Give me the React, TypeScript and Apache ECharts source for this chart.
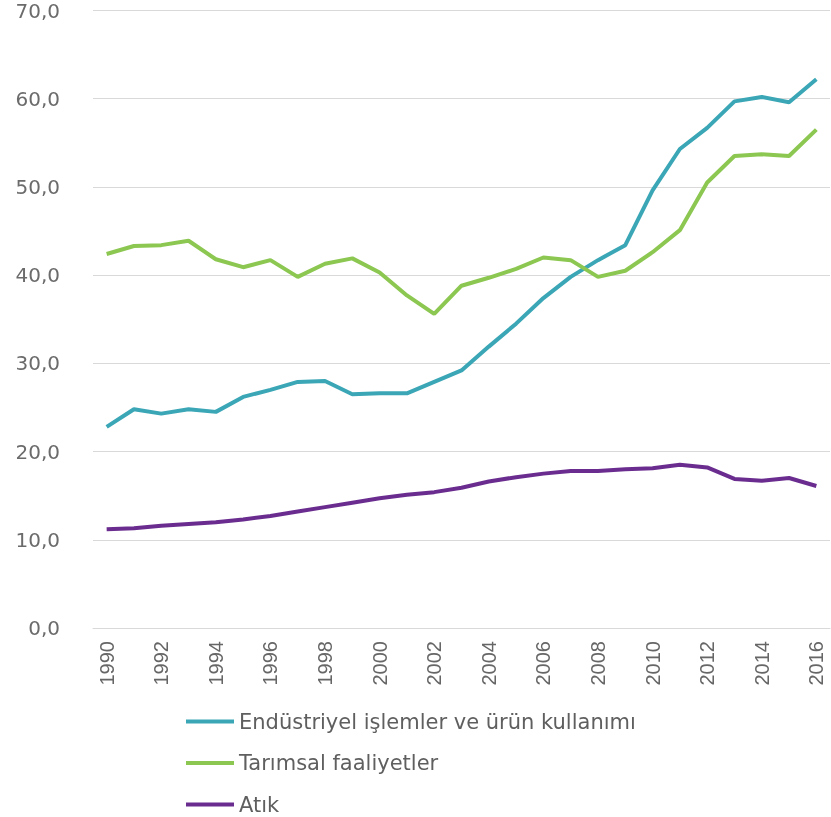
import React, { useEffect, useRef } from "react";
import * as echarts from "echarts";

const years = ["1990","1991","1992","1993","1994","1995","1996","1997","1998","1999","2000","2001","2002","2003","2004","2005","2006","2007","2008","2009","2010","2011","2012","2013","2014","2015","2016"];
const industrial = [22.8,24.8,24.3,24.8,24.5,26.2,27.0,27.9,28.0,26.5,26.6,26.6,27.9,29.2,31.9,34.5,37.4,39.8,41.7,43.4,49.6,54.3,56.7,59.7,60.2,59.6,62.2];
const agriculture = [42.4,43.3,43.4,43.9,41.8,40.9,41.7,39.8,41.3,41.9,40.3,37.7,35.6,38.8,39.7,40.7,42.0,41.7,39.8,40.5,42.6,45.1,50.5,53.5,53.7,53.5,56.5];
const waste = [11.2,11.3,11.6,11.8,12.0,12.3,12.7,13.2,13.7,14.2,14.7,15.1,15.4,15.9,16.6,17.1,17.5,17.8,17.8,18.0,18.1,18.5,18.2,16.9,16.7,17.0,16.1];
const seriesNames = ["Endüstriyel işlemler ve ürün kullanımı", "Tarımsal faaliyetler", "Atık"];
const colors = ["#3aa6b6", "#8cc751", "#6a2d8f"];

export default function App() {
  const ref = useRef<HTMLDivElement>(null);
  useEffect(() => {
    if (!ref.current) return;
    const chart = echarts.init(ref.current, undefined, { renderer: "svg" });
    const datasets = [industrial, agriculture, waste];
    chart.setOption({
      animation: false,
      color: colors,
      grid: { left: 93, right: 1, top: 10.5, bottom: 189 },
      legend: {
        orient: "vertical",
        left: 186,
        top: 711,
        height: 140,
        padding: 0,
        itemGap: 20.5,
        itemWidth: 48,
        itemHeight: 4,
        icon: "rect",
        data: seriesNames,
        textStyle: { fontFamily: "DejaVu Sans", fontSize: 21, color: "#5f5f5f" },
      },
      xAxis: {
        type: "category",
        data: years,
        boundaryGap: true,
        axisLine: { show: true, lineStyle: { color: "#d9d9d9", width: 1 } },
        axisTick: { show: false },
        axisLabel: {
          interval: 1,
          rotate: 90,
          margin: 13,
          fontFamily: "Liberation Sans",
          fontSize: 20,
          color: "#666",
        },
      },
      yAxis: {
        type: "value",
        min: 0,
        max: 70,
        interval: 10,
        axisLine: { show: false },
        axisTick: { show: false },
        splitLine: { lineStyle: { color: "#d9d9d9", width: 1 } },
        axisLabel: {
          margin: 33,
          fontFamily: "DejaVu Sans",
          fontSize: 20,
          color: "#6b6b6b",
          formatter: (v: number) => v.toFixed(1).replace(".", ","),
        },
      },
      series: datasets.map((d, i) => ({
        name: seriesNames[i],
        type: "line",
        data: d,
        symbol: "none",
        lineStyle: { width: 4, color: colors[i] },
        itemStyle: { color: colors[i] },
      })),
    });
    return () => chart.dispose();
  }, []);
  return <div ref={ref} style={{ position: "fixed", left: 0, top: 0, width: 831, height: 817 }} />;
}
